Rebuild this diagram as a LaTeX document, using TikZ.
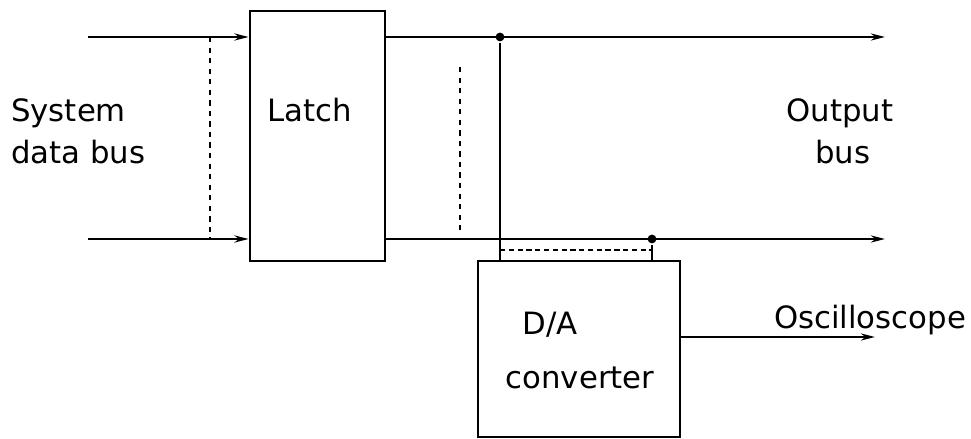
\documentclass[tikz,border=0pt]{standalone}
\usepackage{fontspec}
\setmainfont{DejaVu Sans}
\usetikzlibrary{positioning, arrows.meta}

\begin{document}
\begin{tikzpicture}[>={Stealth[length=8pt, width=4pt]}, line width=1.4pt,
    block/.style={draw, line width=1.6pt, inner sep=0pt},
    label/.style={font=\fontsize{17.5}{24}\selectfont, align=left, inner sep=0pt},
    tap/.style={circle, fill, inner sep=0pt, minimum size=5pt}]
    \useasboundingbox (0,0) rectangle (19.42,8.78);

    \node[block, minimum width=2.7cm, minimum height=5cm]     (latch) at (6.35,6.06) {};
    \node[block, minimum width=4.04cm, minimum height=3.52cm] (dac)   at (11.58,1.8) {};

    \coordinate (inT)  at (1.76,8.04);
    \coordinate (inB)  at (1.76,4.0);
    \coordinate (outT) at (17.7,8.04);
    \coordinate (outB) at (17.7,4.0);
    \coordinate (osc)  at (17.5,2.04);
    \node[tap] (tapT) at (10.0,8.04) {};
    \node[tap] (tapB) at (13.04,4.0) {};

    % input bus
    \draw[->] (inT) -- (inT -| latch.west);
    \draw[->] (inB) -- (inB -| latch.west);
    \draw[dashed, line width=1pt] (4.2,8.04) -- (4.2,4.0);

    % output bus
    \draw[->] (outT -| latch.east) -- (outT);
    \draw[->] (outB -| latch.east) -- (outB);
    \draw[dashed, line width=1pt] (9.2,7.44) -- (9.2,4.08);

    % D/A taps
    \draw (tapT) -- (tapT |- dac.north);
    \draw (tapB) -- (tapB |- dac.north);
    \draw[densely dashed, line width=1pt] (10.0,3.78) -- (13.04,3.78);
    \draw[->] (dac.east |- osc) -- (osc);

    \node[label, anchor=west] (sysbus) at (0.2,6.16) {System\\data bus};
    \node[label] (latchtxt) at (6.2,6.58) {Latch};
    \node[label, align=center] (outbus) at (16.8,6.16) {Output\\ \,bus};
    \node[label] (datxt) at (11.0,2.28) {D/A};
    \node[label] (convtxt) at (11.6,1.22) {converter};
    \node[label] (osctxt) at (17.4,2.38) {Oscilloscope};
\end{tikzpicture}
\end{document}
